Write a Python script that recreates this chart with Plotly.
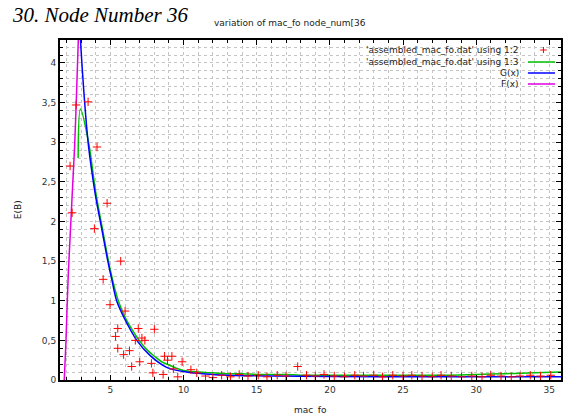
import plotly.graph_objects as go

# measured points: column 1 vs column 2 of assembled_mac_fo.dat
pts_x = [2.24, 2.38, 2.65, 3.47, 4.08, 4.77, 3.9, 5.7, 4.5, 4.97, 6.0, 5.5, 5.35, 6.9, 7.15,
         8.0, 6.7, 7.35, 5.5, 6.3, 5.9, 7.0, 6.45, 7.8, 8.7, 9.2, 9.9, 8.9, 7.9, 8.6, 9.3,
         9.6, 10.5, 10.9, 17.8, 11.5, 12.0, 12.6, 13.2, 13.8, 14.4, 15.1, 15.7, 16.4, 17.0,
         18.4, 19.0, 19.6, 20.3, 21.0, 21.7, 22.3, 23.0, 23.6, 24.3, 25.0, 25.6, 26.3, 27.0,
         27.6, 28.3, 29.0, 29.7, 30.4, 31.0, 31.7, 32.4, 33.0, 33.7, 34.4, 35.1]
pts_y = [2.70, 2.11, 3.47, 3.51, 2.94, 2.23, 1.91, 1.50, 1.27, 0.95, 0.87, 0.65, 0.55, 0.65, 0.53,
         0.64, 0.50, 0.50, 0.40, 0.37, 0.32, 0.23, 0.17, 0.21, 0.30, 0.30, 0.23, 0.25, 0.09, 0.07, 0.14,
         0.04, 0.13, 0.09, 0.17, 0.05, 0.03, 0.06, 0.04, 0.07, 0.05, 0.06, 0.04, 0.06, 0.05,
         0.06, 0.05, 0.07, 0.05, 0.04, 0.06, 0.05, 0.06, 0.04, 0.06, 0.05, 0.06, 0.05, 0.04,
         0.06, 0.05, 0.04, 0.05, 0.04, 0.06, 0.05, 0.04, 0.05, 0.06, 0.05, 0.06]

# column 1 vs column 3, drawn as a line
col3_x = [2.79, 2.95, 3.5, 4.0, 4.5, 5.0, 5.5, 6.0, 6.5, 7.0, 7.5, 8.0, 8.5, 9.0, 9.5, 10.0,
          11.0, 12.0, 13.0, 14.0, 15.0, 16.0, 17.0, 18.0, 20.0, 22.0, 24.0, 26.0, 28.0, 30.0,
          32.0, 34.0, 35.8]
col3_y = [2.80, 3.42, 3.00, 2.36, 1.86, 1.38, 1.02, 0.79, 0.63, 0.49, 0.38, 0.30, 0.23, 0.19, 0.15, 0.12,
          0.10, 0.09, 0.08, 0.08, 0.07, 0.07, 0.07, 0.06, 0.06, 0.06, 0.06, 0.06, 0.06, 0.07,
          0.08, 0.09, 0.10]

# G(x): decaying fit
g_x = [2.86, 2.95, 3.1, 3.3, 3.5, 3.75, 4.0, 4.42, 4.83, 5.1, 5.44, 6.0, 6.8, 7.7, 8.84,
       10.2, 11.5, 13.0, 16.0, 20.0, 25.0, 30.0, 35.8]
g_y = [4.70, 4.30, 3.85, 3.35, 2.95, 2.60, 2.30, 1.89, 1.49, 1.26, 0.99, 0.76, 0.50, 0.31, 0.16,
       0.10, 0.075, 0.06, 0.05, 0.045, 0.04, 0.04, 0.04]

# F(x): rising fit
f_x = [1.84, 1.95, 2.04, 2.12, 2.24, 2.4, 2.55, 2.65, 2.74, 2.82, 2.9]
f_y = [0.0, 0.45, 0.95, 1.35, 1.80, 2.40, 2.95, 3.45, 3.95, 4.40, 4.90]

legend_labels = ["'assembled_mac_fo.dat' using 1:2",
                 "'assembled_mac_fo.dat' using 1:3",
                 "G(x)", "F(x)"]

RED, GREEN, BLUE, MAGENTA = "#ff0000", "#00c000", "#0000ff", "#e000e0"
FONT = "DejaVu Sans"

fig = go.Figure()
fig.add_trace(go.Scatter(x=col3_x, y=col3_y, mode="lines",
                         line=dict(color=GREEN, width=1.5), line_shape="spline"))
fig.add_trace(go.Scatter(x=g_x, y=g_y, mode="lines",
                         line=dict(color=BLUE, width=1.5), line_shape="spline"))
fig.add_trace(go.Scatter(x=f_x, y=f_y, mode="lines",
                         line=dict(color=MAGENTA, width=1.5), line_shape="spline"))
fig.add_trace(go.Scatter(x=pts_x, y=pts_y, mode="markers",
                         marker=dict(symbol="cross-thin", size=6,
                                     line=dict(color=RED, width=1))))

grid = "#c4c4c4"
axis_common = dict(showline=True, linecolor="black", linewidth=2, mirror="allticks",
                   ticks="inside", ticklen=5, tickcolor="black", showgrid=True,
                   gridcolor=grid, griddash="dot", gridwidth=1, zeroline=False,
                   tickfont=dict(family=FONT, size=9, color="#333333"))

fig.update_xaxes(range=[1.55, 35.8], dtick=5, tick0=0,
                 minor=dict(dtick=1, tick0=0, ticks="inside", ticklen=3, tickcolor="black",
                            showgrid=True, gridcolor=grid, griddash="dot"),
                 **axis_common)
fig.update_yaxes(range=[0, 4.29], dtick=0.5, tick0=0,
                 minor=dict(dtick=0.1, tick0=0, ticks="inside", ticklen=3, tickcolor="black",
                            showgrid=True, gridcolor=grid, griddash="dot"),
                 **axis_common)

# key entries: text right-aligned, sample to the right
annotations = []
shapes = []
row_px = [50, 62, 73, 84]
plot_top, plot_h = 40, 340
for i, (label, py) in enumerate(zip(legend_labels, row_px)):
    yp = (plot_top + plot_h - py) / plot_h
    annotations.append(dict(text=label, xref="paper", yref="paper", x=0.9205, y=yp,
                            xanchor="right", yanchor="middle", showarrow=False,
                            font=dict(family=FONT, size=9, color="#222222")))
    if i == 0:
        cx, d = 0.965, 0.0065
        dy = 3 / plot_h
        shapes.append(dict(type="line", xref="paper", yref="paper", x0=cx - d, x1=cx + d,
                           y0=yp, y1=yp, line=dict(color=RED, width=1)))
        shapes.append(dict(type="line", xref="paper", yref="paper", x0=cx, x1=cx,
                           y0=yp - dy, y1=yp + dy, line=dict(color=RED, width=1)))
    else:
        col = [GREEN, BLUE, MAGENTA][i - 1]
        shapes.append(dict(type="line", xref="paper", yref="paper", x0=0.934, x1=0.988,
                           y0=yp, y1=yp, line=dict(color=col, width=1.5)))

annotations += [
    dict(text="variation of mac_fo node_num[36", xref="paper", yref="paper",
         x=0.46, y=1 + 17 / plot_h, xanchor="center", yanchor="middle", showarrow=False,
         font=dict(family=FONT, size=9, color="#222222")),
    dict(text="mac_fo", xref="paper", yref="paper", x=0.5, y=-30 / plot_h,
         xanchor="center", yanchor="middle", showarrow=False,
         font=dict(family=FONT, size=9, color="#222222")),
    dict(text="E(B)", xref="paper", yref="paper", x=-42 / 503, y=0.5,
         xanchor="center", yanchor="middle", showarrow=False, textangle=-90,
         font=dict(family=FONT, size=9, color="#222222")),
    dict(text="<i>30. Node Number 36</i>", xref="paper", yref="paper", x=-50 / 503,
         y=1 + 11 / plot_h, xanchor="left", yanchor="bottom", showarrow=False,
         font=dict(family="Liberation Serif", size=21, color="black")),
]

fig.update_layout(width=564, height=414, margin=dict(l=60, r=1, t=40, b=34),
                  paper_bgcolor="white", plot_bgcolor="white", showlegend=False,
                  separators=",.", annotations=annotations, shapes=shapes)

fig.write_html("out.html")
